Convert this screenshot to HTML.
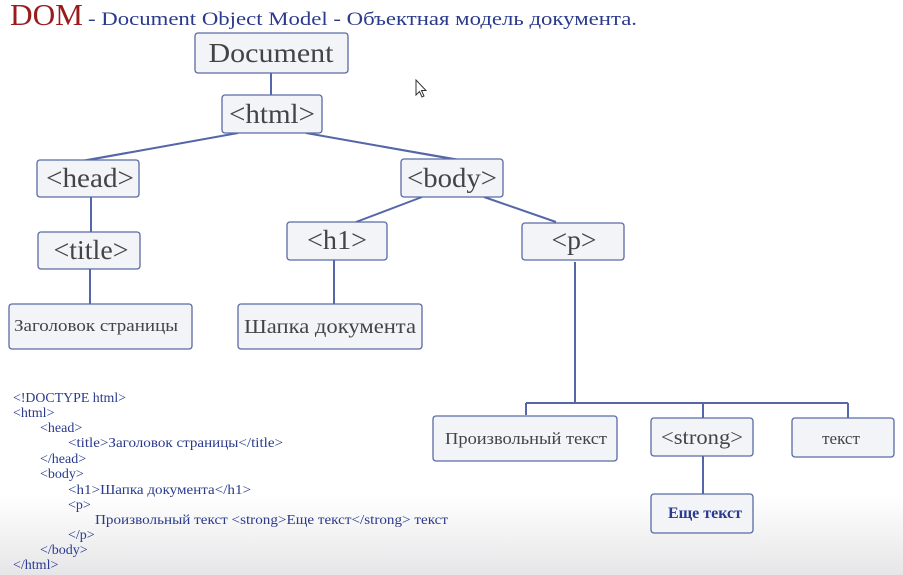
<!DOCTYPE html>
<html><head><meta charset="utf-8"><style>
html,body{margin:0;padding:0;width:903px;height:575px;overflow:hidden;background:#fff}
svg{display:block}
</style></head><body>
<svg width="903" height="575" xmlns="http://www.w3.org/2000/svg">
<defs>
<linearGradient id="bg" x1="0" y1="0" x2="0" y2="1">
<stop offset="0" stop-color="#ffffff"/><stop offset="0.86" stop-color="#ffffff"/><stop offset="1" stop-color="#e6e6e8"/>
</linearGradient>
</defs>
<rect width="903" height="575" fill="url(#bg)"/>
<text x="10" y="25" font-family="Liberation Serif, serif" font-size="31" fill="#9b1a1d" textLength="73" lengthAdjust="spacingAndGlyphs">DOM</text>
<text x="88" y="25" font-family="Liberation Serif, serif" font-size="19" fill="#2a3a8c" textLength="549" lengthAdjust="spacingAndGlyphs">- Document  Object Model - Объектная модель документа.</text>

<g stroke="#5567a8" stroke-width="2" fill="none">
<line x1="271" y1="73" x2="271" y2="95"/>
<line x1="238" y1="133" x2="88" y2="160"/>
<line x1="232" y1="134" x2="84" y2="160" stroke-width="1"/>
<line x1="306" y1="133" x2="458" y2="160"/>
<line x1="312" y1="134" x2="463" y2="160" stroke-width="1"/>
<line x1="91" y1="197" x2="91" y2="232"/>
<line x1="90" y1="269" x2="90" y2="304"/>
<line x1="422" y1="197" x2="356" y2="222"/>
<line x1="484" y1="197" x2="556" y2="222"/>
<line x1="334" y1="260" x2="334" y2="304"/>
<line x1="575" y1="262" x2="575" y2="403"/>
<line x1="526" y1="403" x2="848" y2="403"/>
<line x1="526" y1="403" x2="526" y2="415"/>
<line x1="703" y1="403" x2="703" y2="418"/>
<line x1="848" y1="403" x2="848" y2="418"/>
<line x1="703" y1="456" x2="703" y2="494"/>
</g>

<g fill="#f3f4f7" stroke="#5a6aa6" stroke-width="1.3">
<rect x="195" y="33" width="153" height="40" rx="3"/>
<rect x="222" y="95" width="100" height="38" rx="3"/>
<rect x="37" y="160" width="102" height="37" rx="3"/>
<rect x="401" y="159" width="102" height="38" rx="3"/>
<rect x="38" y="232" width="102" height="37" rx="3"/>
<rect x="287" y="222" width="100" height="38" rx="3"/>
<rect x="522" y="223" width="102" height="37" rx="3"/>
<rect x="9" y="304" width="183" height="45" rx="3"/>
<rect x="238" y="304" width="184" height="45" rx="3"/>
<rect x="433" y="416" width="184" height="45" rx="3"/>
<rect x="651" y="418" width="102" height="38" rx="3"/>
<rect x="792" y="418" width="102" height="39" rx="3"/>
<rect x="651" y="494" width="102" height="39" rx="3"/>
</g>

<g font-family="Liberation Serif, serif" fill="#444" text-anchor="middle">
<text x="271" y="62" font-size="27" textLength="125" lengthAdjust="spacingAndGlyphs">Document</text>
<text x="272" y="123" font-size="27" textLength="86" lengthAdjust="spacingAndGlyphs">&lt;html&gt;</text>
<text x="90" y="187" font-size="27" textLength="88" lengthAdjust="spacingAndGlyphs">&lt;head&gt;</text>
<text x="452" y="187" font-size="27" textLength="90" lengthAdjust="spacingAndGlyphs">&lt;body&gt;</text>
<text x="91" y="259" font-size="27" textLength="75" lengthAdjust="spacingAndGlyphs">&lt;title&gt;</text>
<text x="337" y="249" font-size="27" textLength="60" lengthAdjust="spacingAndGlyphs">&lt;h1&gt;</text>
<text x="574" y="249" font-size="27" textLength="45" lengthAdjust="spacingAndGlyphs">&lt;p&gt;</text>
<text x="96" y="331" font-size="17" textLength="164" lengthAdjust="spacingAndGlyphs">Заголовок страницы</text>
<text x="330" y="333" font-size="20" textLength="172" lengthAdjust="spacingAndGlyphs">Шапка документа</text>
<text x="526" y="444" font-size="17" textLength="162" lengthAdjust="spacingAndGlyphs">Произвольный текст</text>
<text x="702" y="444" font-size="21" textLength="82" lengthAdjust="spacingAndGlyphs">&lt;strong&gt;</text>
<text x="841" y="444" font-size="17">текст</text>
<text x="705" y="518" font-size="16" fill="#2a3a8c" font-weight="bold">Еще текст</text>
</g>

<g font-family="Liberation Serif, serif" font-size="14" fill="#2a3a8c">
<text x="13" y="402" textLength="113" lengthAdjust="spacingAndGlyphs">&lt;!DOCTYPE html&gt;</text>
<text x="13" y="417">&lt;html&gt;</text>
<text x="40" y="432">&lt;head&gt;</text>
<text x="68" y="447" textLength="215" lengthAdjust="spacingAndGlyphs">&lt;title&gt;Заголовок страницы&lt;/title&gt;</text>
<text x="40" y="463">&lt;/head&gt;</text>
<text x="40" y="478">&lt;body&gt;</text>
<text x="68" y="494" textLength="183" lengthAdjust="spacingAndGlyphs">&lt;h1&gt;Шапка документа&lt;/h1&gt;</text>
<text x="68" y="509">&lt;p&gt;</text>
<text x="95" y="524" textLength="353" lengthAdjust="spacingAndGlyphs">Произвольный текст &lt;strong&gt;Еще текст&lt;/strong&gt; текст</text>
<text x="68" y="539">&lt;/p&gt;</text>
<text x="40" y="554">&lt;/body&gt;</text>
<text x="13" y="569">&lt;/html&gt;</text>
</g>

<path d="M416 80 L416 95 L419.5 91.5 L422 97 L424 96 L421.5 90.5 L426 90.5 Z" fill="#fff" stroke="#333" stroke-width="1"/>
</svg>
</body></html>
